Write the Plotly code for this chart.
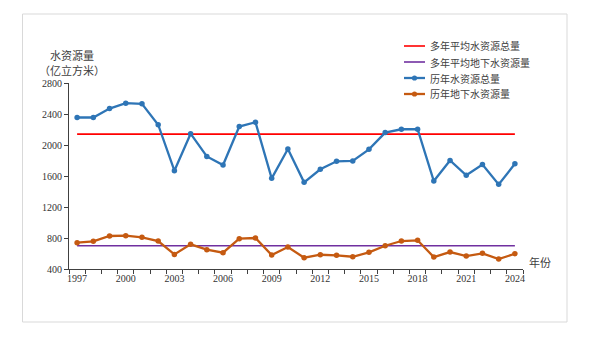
import plotly.graph_objects as go

years = list(range(1997, 2025))
total = [2355, 2355, 2470, 2540, 2532, 2262, 1668, 2146, 1853, 1741, 2238, 2294,
         1570, 1948, 1518, 1686, 1790, 1795, 1944, 2160, 2203, 2203, 1535, 1801,
         1609, 1749, 1492, 1757]
ground = [740, 757, 826, 830, 809, 761, 588, 718, 649, 610, 791, 800,
          580, 684, 546, 584, 576, 558, 615, 700, 761, 770, 554, 619,
          567, 602, 528, 597]
avg_total = 2140
avg_ground = 700
tick_years = [1997, 2000, 2003, 2006, 2009, 2012, 2015, 2018, 2021, 2024]
names = ["多年平均水资源总量", "多年平均地下水资源量", "历年水资源总量", "历年地下水资源量"]
colors = ["#FF0000", "#7030A0", "#2E75B6", "#C55A11"]

W, H = 600, 338
L, R, T, B = 69, 77, 83, 69
pw, ph = W - L - R, H - T - B

def px(x):
    return (x - L) / pw

def py(y):
    return (H - B - y) / ph

fig = go.Figure()
fig.add_trace(go.Scatter(x=years, y=[avg_total] * len(years), mode="lines", name=names[0],
                         line=dict(color=colors[0], width=1.6)))
fig.add_trace(go.Scatter(x=years, y=[avg_ground] * len(years), mode="lines", name=names[1],
                         line=dict(color=colors[1], width=1.6)))
fig.add_trace(go.Scatter(x=years, y=total, mode="lines+markers", name=names[2],
                         line=dict(color=colors[2], width=2.3),
                         marker=dict(color=colors[2], size=5.5)))
fig.add_trace(go.Scatter(x=years, y=ground, mode="lines+markers", name=names[3],
                         line=dict(color=colors[3], width=2.3),
                         marker=dict(color=colors[3], size=5.5)))

tick_font = dict(family="Liberation Serif, Times New Roman, serif", size=10, color="#333333")
cjk = "Noto Sans CJK SC"

annotations = [
    dict(text="水资源量", x=px(72), y=py(45), xref="paper", yref="paper", xanchor="center",
         showarrow=False, font=dict(family=cjk, size=11, color="#404040")),
    dict(text="（亿立方米）", x=px(72), y=py(60), xref="paper", yref="paper", xanchor="center",
         showarrow=False, font=dict(family=cjk, size=11, color="#404040")),
    dict(text="年份", x=px(527), y=py(272), xref="paper", yref="paper", xanchor="left",
         showarrow=False, font=dict(family=cjk, size=11, color="#404040")),
]
shapes = [
    dict(type="rect", xref="paper", yref="paper", x0=px(22.5), x1=px(567), y0=py(322), y1=py(14),
         line=dict(color="#D9D9D9", width=1), fillcolor="rgba(0,0,0,0)", layer="below"),
]

# manual legend (compact spacing like the reference)
rows_y = [46, 62, 78, 94]
for i, (nm, c) in enumerate(zip(names, colors)):
    yy = py(rows_y[i])
    shapes.append(dict(type="line", xref="paper", yref="paper", x0=px(404), x1=px(425),
                       y0=yy, y1=yy, line=dict(color=c, width=1.6 if i < 2 else 2.3)))
    if i >= 2:
        r = 2.6
        shapes.append(dict(type="circle", xref="paper", yref="paper",
                           x0=px(414.5 - r), x1=px(414.5 + r), y0=py(rows_y[i] + r), y1=py(rows_y[i] - r),
                           fillcolor=c, line=dict(color=c, width=0)))
    annotations.append(dict(text=nm, x=px(428), y=yy, xref="paper", yref="paper",
                            xanchor="left", yanchor="middle", showarrow=False,
                            font=dict(family=cjk, size=10, color="#404040")))

fig.update_layout(
    width=W, height=H,
    margin=dict(l=L, r=R, t=T, b=B),
    paper_bgcolor="white", plot_bgcolor="white",
    showlegend=False,
    xaxis=dict(range=[1996.5, 2024.5], tickvals=tick_years, ticktext=[str(y) for y in tick_years],
               ticks="", showgrid=False, zeroline=False, showline=True,
               linecolor="#404040", linewidth=1.2, tickfont=tick_font,
               minor=dict(tick0=1996.5, dtick=1, ticks="outside", ticklen=4,
                          tickcolor="#404040", showgrid=False)),
    yaxis=dict(range=[400, 2800], tickvals=[400, 800, 1200, 1600, 2000, 2400, 2800],
               ticks="outside", ticklen=4, tickcolor="#404040",
               showgrid=False, zeroline=False, showline=True,
               linecolor="#404040", linewidth=1.2, tickfont=tick_font),
    annotations=annotations,
    shapes=shapes,
)

fig.write_html("out.html")
